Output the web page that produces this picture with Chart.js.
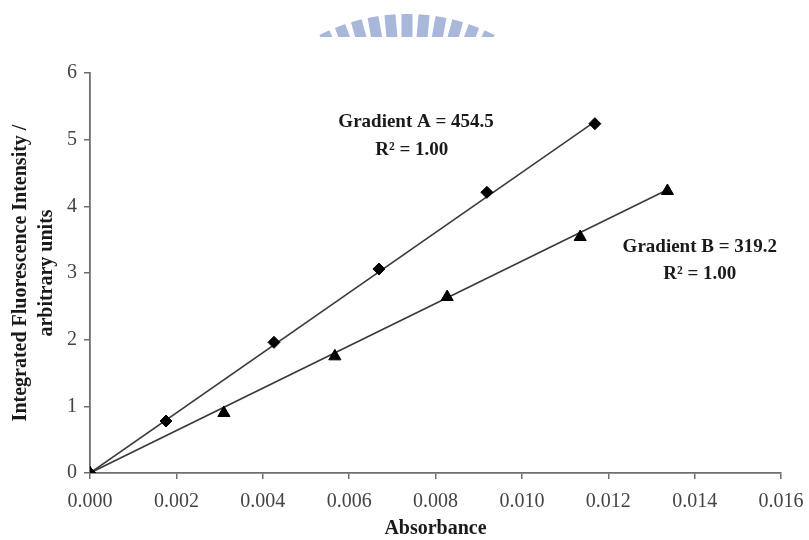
<!DOCTYPE html>
<html lang="en">
<head>
  <meta charset="UTF-8" />
  <title>Integrated Fluorescence vs Absorbance</title>
  <style>
    html, body { margin: 0; padding: 0; background: #ffffff; }
    #wrap { width: 809px; height: 540px; position: relative; }
  </style>
</head>
<body>
  <div id="wrap"><canvas id="chart" width="809" height="540"></canvas></div>

  <script src="https://cdn.jsdelivr.net/npm/chart.js"></script>
  <script>
    // Sample A (diamonds)
    const absA = [0, 0.00176, 0.00426, 0.00669, 0.00919, 0.01169];
    const fluA = [0, 0.78, 1.96, 3.06, 4.21, 5.24];
    // Sample B (triangles)
    const absB = [0, 0.00310, 0.00567, 0.00827, 0.01135, 0.01337];
    const fluB = [0, 0.90, 1.75, 2.64, 3.54, 4.23];

    // fitted line end points
    const fitAx = [0, 0.01169];
    const fitAy = [0, 5.27];
    const fitBx = [0, 0.01337];
    const fitBy = [0, 4.25];

    const xTicks = [0, 0.002, 0.004, 0.006, 0.008, 0.010, 0.012, 0.014, 0.016];
    const yTicks = [0, 1, 2, 3, 4, 5, 6];

    const labelA = ['Gradient A = 454.5', 'R\u00B2 = 1.00'];
    const labelB = ['Gradient B = 319.2', 'R\u00B2 = 1.00'];

    const pts = (xs, ys) => xs.map((x, i) => ({ x: x, y: ys[i] }));
    const serif = '"Liberation Serif", "DejaVu Serif", serif';

    // faint logo arc at the top of the page
    const logoArc = {
      id: 'logoArc',
      beforeDraw(chart) {
        const ctx = chart.ctx;
        ctx.save();
        ctx.beginPath();
        ctx.rect(0, 0, chart.width, 37);
        ctx.clip();
        ctx.fillStyle = '#a9b7da';
        for (let i = -5; i <= 5; i++) {
          ctx.save();
          ctx.translate(407, 206);
          ctx.rotate(i * 0.089);
          ctx.fillRect(-5.5, -192, 11, 40);
          ctx.restore();
        }
        ctx.restore();
      }
    };

    // gradient labels
    const gradLabels = {
      id: 'gradLabels',
      afterDatasetsDraw(chart) {
        const ctx = chart.ctx;
        const xs = chart.scales.x, ys = chart.scales.y;
        ctx.save();
        ctx.fillStyle = '#1a1a1a';
        ctx.font = 'bold 19px ' + serif;
        ctx.textAlign = 'center';
        ctx.textBaseline = 'middle';
        const draw = (lines, x1, y1, x2, y2) => {
          ctx.fillText(lines[0], xs.getPixelForValue(x1), ys.getPixelForValue(y1));
          ctx.fillText(lines[1], xs.getPixelForValue(x2), ys.getPixelForValue(y2));
        };
        draw(labelA, 0.00755, 5.27, 0.00745, 4.85);
        draw(labelB, 0.01412, 3.39, 0.01412, 2.99);
        ctx.restore();
      }
    };

    const axisColor = '#6e6e6e';

    new Chart(document.getElementById('chart'), {
      type: 'scatter',
      data: {
        datasets: [
          {
            label: 'Fit A',
            data: pts(fitAx, fitAy),
            showLine: true,
            borderColor: '#3a3a3a',
            borderWidth: 1.6,
            pointRadius: 0,
            order: 3
          },
          {
            label: 'Fit B',
            data: pts(fitBx, fitBy),
            showLine: true,
            borderColor: '#3a3a3a',
            borderWidth: 1.6,
            pointRadius: 0,
            order: 3
          },
          {
            label: 'A',
            data: pts(absA, fluA),
            pointStyle: 'rectRot',
            pointRadius: 6,
            backgroundColor: '#000',
            borderColor: '#000',
            borderWidth: 1,
            order: 1
          },
          {
            label: 'B',
            data: pts(absB, fluB),
            pointStyle: 'triangle',
            pointRadius: 7,
            backgroundColor: '#000',
            borderColor: '#000',
            borderWidth: 1,
            order: 1
          }
        ]
      },
      options: {
        responsive: false,
        animation: false,
        layout: { padding: { top: 73, right: 28, left: 0, bottom: 0 } },
        plugins: {
          legend: { display: false },
          tooltip: { enabled: false }
        },
        scales: {
          x: {
            type: 'linear',
            min: 0,
            max: 0.016,
            afterBuildTicks: (s) => { s.ticks = xTicks.map(v => ({ value: v })); },
            afterFit: (s) => { s.height = 67; s.paddingLeft = 0; s.paddingRight = 0; },
            border: { display: true, color: axisColor, width: 1.8 },
            grid: { drawOnChartArea: false, drawTicks: true, tickLength: 6, color: axisColor, lineWidth: 1.5 },
            ticks: {
              color: '#444',
              padding: 11,
              maxRotation: 0,
              font: { family: serif, size: 20 },
              callback: (v) => v.toFixed(3)
            },
            title: {
              display: true,
              text: 'Absorbance',
              color: '#1a1a1a',
              padding: { top: 0, bottom: 0 },
              font: { family: serif, size: 20, weight: 'bold', lineHeight: 1.1 }
            }
          },
          y: {
            type: 'linear',
            min: 0,
            max: 6,
            afterBuildTicks: (s) => { s.ticks = yTicks.map(v => ({ value: v })); },
            afterFit: (s) => { s.width = 90; s.paddingTop = 0; s.paddingBottom = 0; },
            border: { display: true, color: axisColor, width: 1.8 },
            grid: { drawOnChartArea: false, drawTicks: true, tickLength: 6, color: axisColor, lineWidth: 1.5 },
            ticks: {
              color: '#444',
              padding: 7,
              font: { family: serif, size: 20 }
            },
            title: {
              display: true,
              text: ['Integrated Fluorescence Intensity /', 'arbitrary units'],
              color: '#1a1a1a',
              padding: { top: 8, bottom: 0 },
              font: { family: serif, size: 20, weight: 'bold', lineHeight: 1.3 }
            }
          }
        }
      },
      plugins: [logoArc, gradLabels]
    });
  </script>
</body>
</html>
